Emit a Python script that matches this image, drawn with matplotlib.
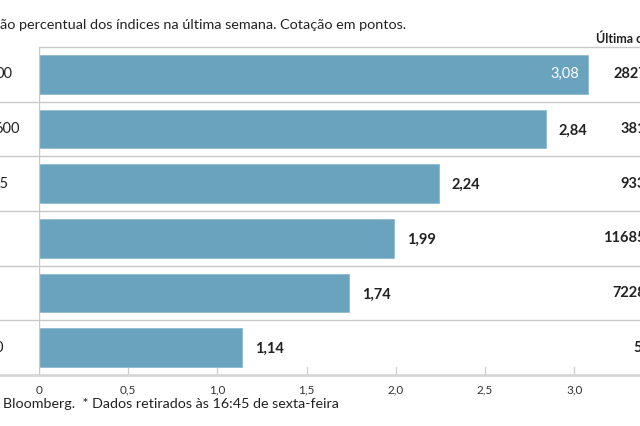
import matplotlib
matplotlib.use("Agg")
import matplotlib.pyplot as plt
import matplotlib.transforms as mtransforms

# visible (cropped) fragments of the original chart
index_labels = ["00", "600", "45", "", "", "0"]
weekly_change = [3.08, 2.84, 2.24, 1.99, 1.74, 1.14]
change_labels = ["3,08", "2,84", "2,24", "1,99", "1,74", "1,14"]
last_quote = ["2827", "381", "933", "11685", "7228", "5"]
tick_values = [0, 0.5, 1.0, 1.5, 2.0, 2.5, 3.0]
tick_labels = ["0", "0,5", "1,0", "1,5", "2,0", "2,5", "3,0"]

title = "ão percentual dos índices na última semana. Cotação em pontos."
col_header = "Última c"
footer = "Bloomberg.  * Dados retirados às 16:45 de sexta-feira"

plt.rcParams['font.family'] = ['Lato', 'DejaVu Sans']

W, H = 640, 426
fig = plt.figure(figsize=(W / 100, H / 100), dpi=100)
fig.patch.set_facecolor("white")

# axes: x=0 at 39px, top row line at 47px, bottom axis at 375px
ax = fig.add_axes([39 / W, 1 - 375 / H, 1 - 39 / W, (375 - 47) / H])
n = len(weekly_change)
ax.set_xlim(0, (W - 39) / 178.4)
ax.set_ylim(n - 0.5, -0.5)
for s in ax.spines.values():
    s.set_visible(False)
ax.set_xticks([])
ax.set_yticks([])

bar_color = "#6aa3be"
line_gray = "#c9c9c9"
text_dark = "#222222"

ys = list(range(n))
ax.barh(ys, weekly_change, height=0.71, color=bar_color, edgecolor="#8fbad0",
        linewidth=0.6, zorder=2)

# row separators across the whole figure width
blend = mtransforms.blended_transform_factory(fig.transFigure, ax.transData)
for i in range(1, n):
    ax.plot([0, 1], [i - 0.5, i - 0.5], transform=blend, color=line_gray,
            lw=1.0, clip_on=False, zorder=1)
# top line only over the plot area
ax.axhline(-0.5, color=line_gray, lw=1.0, zorder=1, clip_on=False)
# bottom axis line
ax.plot([0, 1], [n - 0.5, n - 0.5], transform=blend, color="#d6d6d6",
        lw=2.0, clip_on=False, zorder=3)
# vertical zero line
ax.axvline(0, color=line_gray, lw=1.0, zorder=3)

# small ticks above the axis line
for t in tick_values[1:]:
    ax.plot([t, t], [n - 0.5 - 0.14, n - 0.5], color="#cccccc", lw=0.9,
            zorder=1, clip_on=False)

tick_tr = ax.get_xaxis_transform()
for t, lab in zip(tick_values, tick_labels):
    ax.text(t, -0.03, lab, transform=tick_tr, ha="center", va="top",
            fontsize=8.5, color="#333333")

# value labels
for y, v, lab in zip(ys, weekly_change, change_labels):
    if v > 3.0:
        ax.annotate(lab, (v, y), xytext=(-7, 0), textcoords="offset points",
                    ha="right", va="center", fontsize=10.5, color="white",
                    zorder=4)
    else:
        ax.annotate(lab, (v, y), xytext=(9, -1), textcoords="offset points",
                    ha="left", va="center", fontsize=10.5, fontweight="bold",
                    color=text_dark, zorder=4)

# cropped index names on the left and last quotes on the right
row_tr = mtransforms.blended_transform_factory(fig.transFigure, ax.transData)
left_end = {"00": 12.5, "600": 19.5, "45": 9, "": 0, "0": 3}
for y, lab in zip(ys, index_labels):
    ax.text(left_end[lab] / W, y, lab, transform=row_tr, ha="right",
            va="center", fontsize=10.5, color=text_dark, clip_on=False)
quote_start = {"2827": 614, "381": 621, "933": 620, "11685": 603,
               "7228": 612, "5": 633}
for y, lab in zip(ys, last_quote):
    ax.text(quote_start[lab] / W, y, lab, transform=row_tr, ha="left",
            va="center", fontsize=10.5, fontweight="bold", color=text_dark,
            clip_on=False)

fig.text(0 / W, 1 - 25 / H, title, ha="left", va="center", fontsize=10.4,
         color=text_dark)
fig.text(596 / W, 1 - 39 / H, col_header, ha="left", va="center", fontsize=9,
         fontweight="bold", color=text_dark)
fig.text(3 / W, 1 - 404 / H, footer, ha="left", va="center", fontsize=10.3,
         color=text_dark)

fig.savefig("out.png", dpi=100, facecolor="white")
